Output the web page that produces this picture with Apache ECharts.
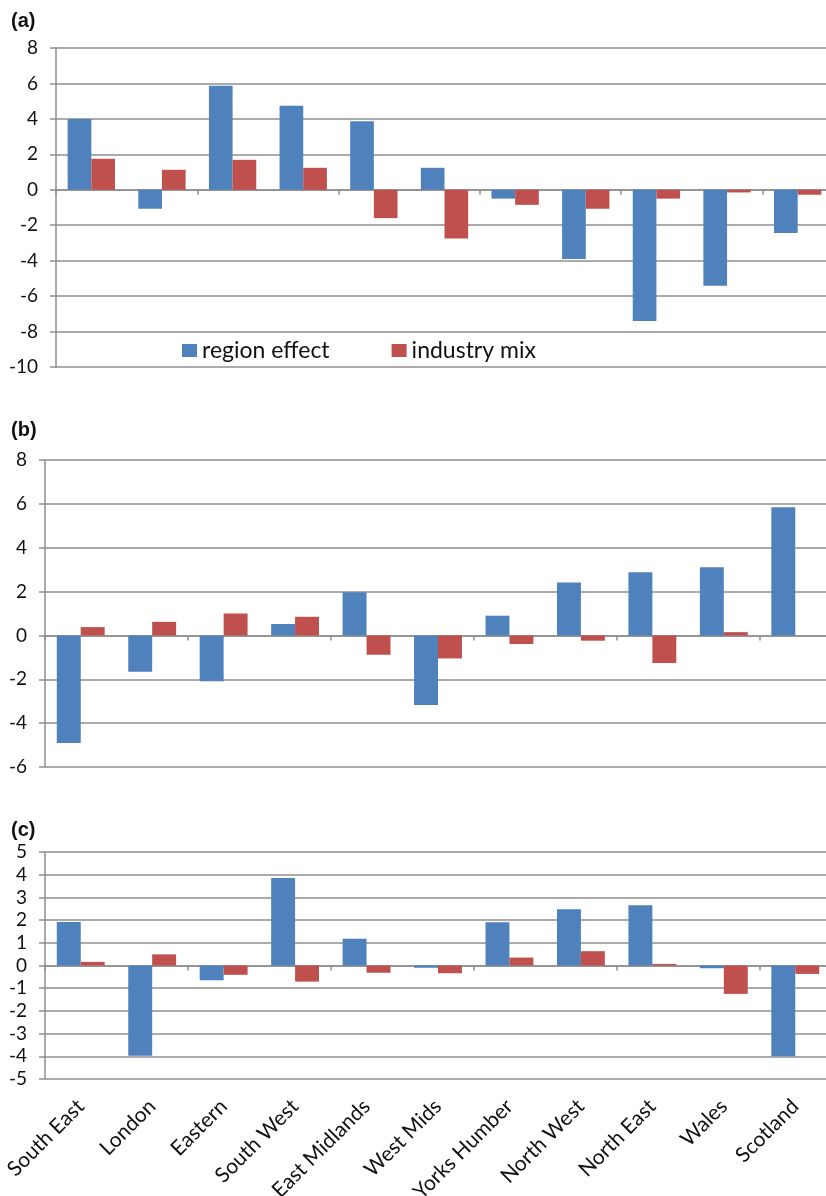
<!DOCTYPE html>
<html>
<head>
<meta charset="utf-8">
<script src="https://cdn.jsdelivr.net/npm/echarts@6/dist/echarts.min.js"></script>
<style>
html,body{margin:0;padding:0;background:#fff;}
#chart{width:826px;height:1196px;}
</style>
</head>
<body>
<div id="chart"></div>
<script>
const categories = ['South East','London','Eastern','South West','East Midlands','West Mids','Yorks Humber','North West','North East','Wales','Scotland'];
const seriesNames = ['region effect','industry mix'];
const aRegion   = [4.0, -1.07, 5.87, 4.74, 3.86, 1.24, -0.5, -3.9, -7.4, -5.42, -2.44];
const aIndustry = [1.75, 1.13, 1.69, 1.24, -1.6, -2.75, -0.85, -1.07, -0.5, -0.15, -0.28];
const bRegion   = [-4.9, -1.66, -2.09, 0.52, 1.97, -3.17, 0.9, 2.41, 2.88, 3.11, 5.84];
const bIndustry = [0.38, 0.62, 1.0, 0.85, -0.88, -1.05, -0.39, -0.24, -1.26, 0.15, 0];
const cRegion   = [1.92, -3.98, -0.65, 3.86, 1.18, -0.1, 1.9, 2.48, 2.65, -0.12, -4.0];
const cIndustry = [0.16, 0.49, -0.41, -0.71, -0.32, -0.34, 0.35, 0.63, 0.07, -1.25, -0.37];
const panelLabels = ['(a)','(b)','(c)'];
const yRanges = [[-10, 8, 2], [-6, 8, 2], [-5, 5, 1]];

const BLUE = '#4F81BD', RED = '#C0504D', GRID = '#8f8f8f';
const FONT = 'Lato';

const grids = [
  {left: 56, top: 48, width: 777, height: 319, outerBoundsMode: 'none', containLabel: false},
  {left: 45, top: 460, width: 786, height: 307, outerBoundsMode: 'none', containLabel: false},
  {left: 45, top: 852, width: 786, height: 227, outerBoundsMode: 'none', containLabel: false}
];

const xAxes = [], yAxes = [], series = [];
const data = [[aRegion, aIndustry], [bRegion, bIndustry], [cRegion, cIndustry]];
for (let i = 0; i < 3; i++) {
  xAxes.push({
    type: 'category', gridIndex: i, data: categories,
    axisLine: {show: true, onZero: true, lineStyle: {color: GRID, width: 1.5}},
    axisTick: {show: true, length: 5, lineStyle: {color: GRID, width: 1.5}},
    axisLabel: {show: false}
  });
  yAxes.push({
    type: 'value', gridIndex: i,
    min: yRanges[i][0], max: yRanges[i][1], interval: yRanges[i][2],
    axisLine: {show: true, lineStyle: {color: GRID, width: 1.5}},
    axisTick: {show: true, length: 6, lineStyle: {color: GRID, width: 1.5}},
    axisLabel: {color: '#111', fontFamily: FONT, fontSize: 19, margin: 18},
    splitLine: {show: true, lineStyle: {color: GRID, width: 1.5}}
  });
  for (let s = 0; s < 2; s++) {
    series.push({
      type: 'bar', name: seriesNames[s], xAxisIndex: i, yAxisIndex: i,
      data: data[i][s], barGap: '0%', barCategoryGap: '33%',
      itemStyle: {color: s === 0 ? BLUE : RED},
      silent: true
    });
  }
}
// label-only bottom axis for panel (c)
xAxes.push({
  type: 'category', gridIndex: 2, data: categories, position: 'bottom',
  axisLine: {show: false, onZero: false}, axisTick: {show: false},
  axisLabel: {show: true, rotate: 45, interval: 0, margin: 24, color: '#111', fontFamily: FONT, fontSize: 21}
});

const chart = echarts.init(document.getElementById('chart'), null, {renderer: 'canvas'});
chart.setOption({
  animation: false,
  backgroundColor: '#fff',
  grid: grids,
  xAxis: xAxes,
  yAxis: yAxes,
  series: series,
  title: panelLabels.map((t, i) => ({
    text: t, left: 6, top: [6, 415, 815][i],
    textStyle: {fontFamily: 'Liberation Sans', fontWeight: 'bold', fontSize: 20, color: '#111'}
  })),
  legend: {
    data: seriesNames, left: 177, top: 334, itemWidth: 15, itemHeight: 13, itemGap: 62,
    icon: 'rect',
    textStyle: {fontFamily: FONT, fontSize: 23, color: '#111'}
  }
});
</script>
</body>
</html>
